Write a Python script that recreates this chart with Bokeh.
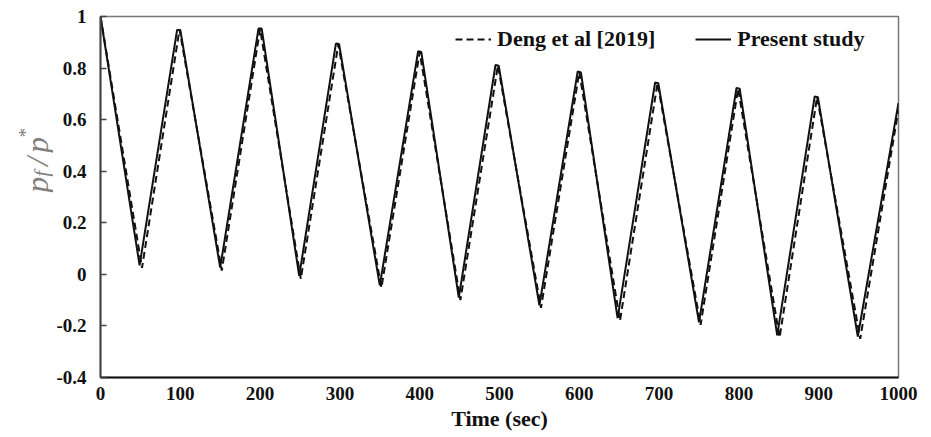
import math
from bokeh.plotting import figure
from bokeh.layouts import row
from bokeh.models import Range1d, FixedTicker, Legend, LegendItem
from bokeh.core.properties import value
from bokeh.embed import file_html
from bokeh.resources import INLINE

# Present study (solid)
present_t = [0, 49, 96, 100, 150, 198, 202, 249, 295, 299, 350, 398, 402, 449,
             495, 499, 550, 598, 602, 648, 695, 699, 750, 797, 801, 848, 895,
             899, 949, 1000]
present_v = [1.0, 0.035, 0.948, 0.948, 0.026, 0.953, 0.953, -0.006, 0.895, 0.893,
             -0.043, 0.865, 0.862, -0.09, 0.812, 0.809, -0.12, 0.787, 0.783,
             -0.17, 0.744, 0.741, -0.186, 0.723, 0.72, -0.237, 0.69, 0.687,
             -0.241, 0.665]

# Deng et al [2019] (dashed)
deng_t = [0, 52, 99, 152, 200, 251, 298, 352, 400, 451, 498, 552, 600, 651,
          698, 752, 799, 851, 898, 952, 1000]
deng_v = [1.0, 0.025, 0.95, 0.015, 0.952, -0.018, 0.892, -0.052, 0.862, -0.1,
          0.81, -0.13, 0.785, -0.18, 0.742, -0.196, 0.72, -0.245, 0.688, -0.25,
          0.64]

y_ticks = [-0.4, -0.2, 0, 0.2, 0.4, 0.6, 0.8, 1.0]
y_tick_labels = ["-0.4", "-0.2", "0", "0.2", "0.4", "0.6", "0.8", "1"]
x_ticks = [0, 100, 200, 300, 400, 500, 600, 700, 800, 900, 1000]

SERIF = "Liberation Serif"
W, H = 931, 437
LW = 53                       # width of the strip holding the y title
L, R, T, B = 98 - LW, 33, 16, 60
X0, X1, Y0, Y1 = 0, 1000, -0.4, 1.0

p = figure(width=W - LW, height=H, output_backend="svg", toolbar_location=None,
           x_range=Range1d(X0, X1), y_range=Range1d(Y0, Y1),
           min_border_left=L, min_border_right=R, min_border_top=T,
           min_border_bottom=B)

p.xgrid.visible = False
p.ygrid.visible = False
p.background_fill_color = "white"
p.border_fill_color = "white"
p.outline_line_color = "#777777"
p.outline_line_width = 1.5

# axes
xa = p.xaxis[0]
xa.ticker = FixedTicker(ticks=x_ticks)
xa.major_tick_in = 0
xa.major_tick_out = 0
xa.minor_tick_line_color = None
xa.axis_line_color = "#111111"
xa.axis_line_width = 2
xa.major_label_text_font = SERIF
xa.major_label_text_font_style = "bold"
xa.major_label_text_font_size = "19px"
xa.major_label_text_color = "#111111"
xa.major_label_standoff = 9
xa.axis_label = "Time (sec)"
xa.axis_label_text_font = SERIF
xa.axis_label_text_font_style = "bold"
xa.axis_label_text_font_size = "22px"
xa.axis_label_text_color = "#111111"
xa.axis_label_standoff = 3

ya = p.yaxis[0]
ya.ticker = FixedTicker(ticks=y_ticks)
ya.major_label_overrides = {t: s for t, s in zip(y_ticks, y_tick_labels)}
ya.major_tick_in = 6
ya.major_tick_out = 0
ya.major_tick_line_color = "#444444"
ya.major_tick_line_width = 1.5
ya.minor_tick_line_color = None
ya.axis_line_color = "#444444"
ya.axis_line_width = 2
ya.major_label_text_font = SERIF
ya.major_label_text_font_style = "bold"
ya.major_label_text_font_size = "19px"
ya.major_label_text_color = "#111111"
ya.major_label_standoff = 14

# data lines
r_deng = p.line(deng_t, deng_v, line_color="#111111", line_width=2,
                line_dash="7 4")
r_pres = p.line(present_t, present_v, line_color="#111111", line_width=2)

FH = H - T - B
legend = Legend(items=[LegendItem(label="Deng et al [2019]", renderers=[r_deng]),
                       LegendItem(label="Present study", renderers=[r_pres])],
                orientation="horizontal", location=(355, FH - 36),
                label_text_font=SERIF, label_text_font_style="bold",
                label_text_font_size="22px", label_text_color="#111111",
                glyph_width=36, label_standoff=6, spacing=40, padding=0,
                margin=0, border_line_color=None, background_fill_alpha=0)
p.add_layout(legend, "center")

# strip with the rotated y title p_f / p^*  (pixel-based coordinates,
# each piece anchored at its upper end)
q = figure(width=LW, height=H, output_backend="svg", toolbar_location=None,
           x_range=Range1d(0, LW), y_range=Range1d(H, 0),
           min_border_left=0, min_border_right=0, min_border_top=0,
           min_border_bottom=0)
q.axis.visible = False
q.grid.visible = False
q.outline_line_color = None
q.background_fill_color = "white"
q.border_fill_color = "white"

GRAY = "#808080"
title_parts = ["p", "f", "/", "p", "*"]
part_x = [36, 41, 36, 36, 25]
part_y = [194, 187, 170, 146, 136]
part_size = ["32px", "21px", "32px", "32px", "19px"]
for t, x, y, s in zip(title_parts, part_x, part_y, part_size):
    q.text(x=[x], y=[y], text=[t], angle=math.pi / 2,
           text_font=value(SERIF), text_font_style="italic",
           text_font_size=s, text_color=GRAY, text_align="right",
           text_baseline="alphabetic")

open("out.html", "w").write(file_html(row(q, p, spacing=0), INLINE))
